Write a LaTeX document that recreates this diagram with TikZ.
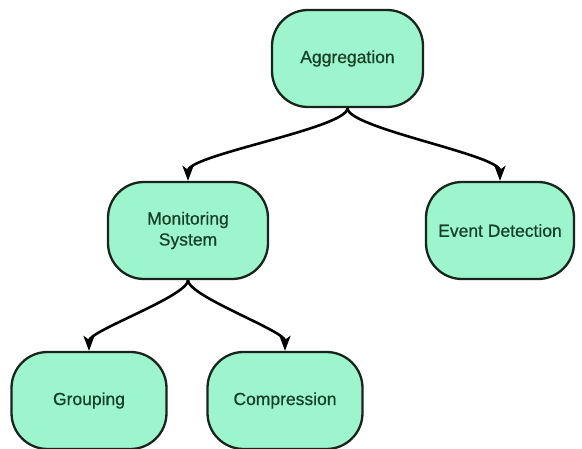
\documentclass[tikz,border=0pt]{standalone}
\usepackage{fontspec}
\setmainfont{Liberation Sans}
\newfontfamily\boxfont[FakeBold=0.6]{Liberation Sans}
\usetikzlibrary{arrows.meta}
\definecolor{boxfill}{HTML}{9CF5CD}
\definecolor{edgecol}{HTML}{18241C}
\definecolor{txtcol}{HTML}{173F26}
\begin{document}
\begin{tikzpicture}[x=1pt,y=-1pt,
  box/.style={draw=edgecol, line width=2.3pt, fill=boxfill, rounded corners=36pt,
    minimum width=#1, minimum height=97pt, inner sep=0pt, align=center,
    text=txtcol, font=\boxfont\fontsize{17.5}{21}\selectfont},
  link/.style={draw=black, line width=2.6pt, -{Stealth[length=15pt,width=11pt,inset=4pt]}}]
\useasboundingbox (0,0) rectangle (582,449);
\node[box=151pt] (agg) at (347.5,58.5) {Aggregation};
\node[box=160pt] (mon) at (188,230.5) {Monitoring\\System};
\node[box=148pt] (evt) at (500,230.5) {Event Detection};
\node[box=155pt] (grp) at (89,400.5) {Grouping};
\node[box=155pt] (cmp) at (285,400.5) {Compression};
\draw[link] (agg.south) .. controls +(0,20) and +(0,-26) .. (mon.north);
\draw[link] (agg.south) .. controls +(0,20) and +(0,-26) .. (evt.north);
\draw[link] (mon.south) .. controls +(0,16) and +(0,-20) .. (grp.north);
\draw[link] (mon.south) .. controls +(0,16) and +(0,-20) .. (cmp.north);
\end{tikzpicture}
\end{document}
